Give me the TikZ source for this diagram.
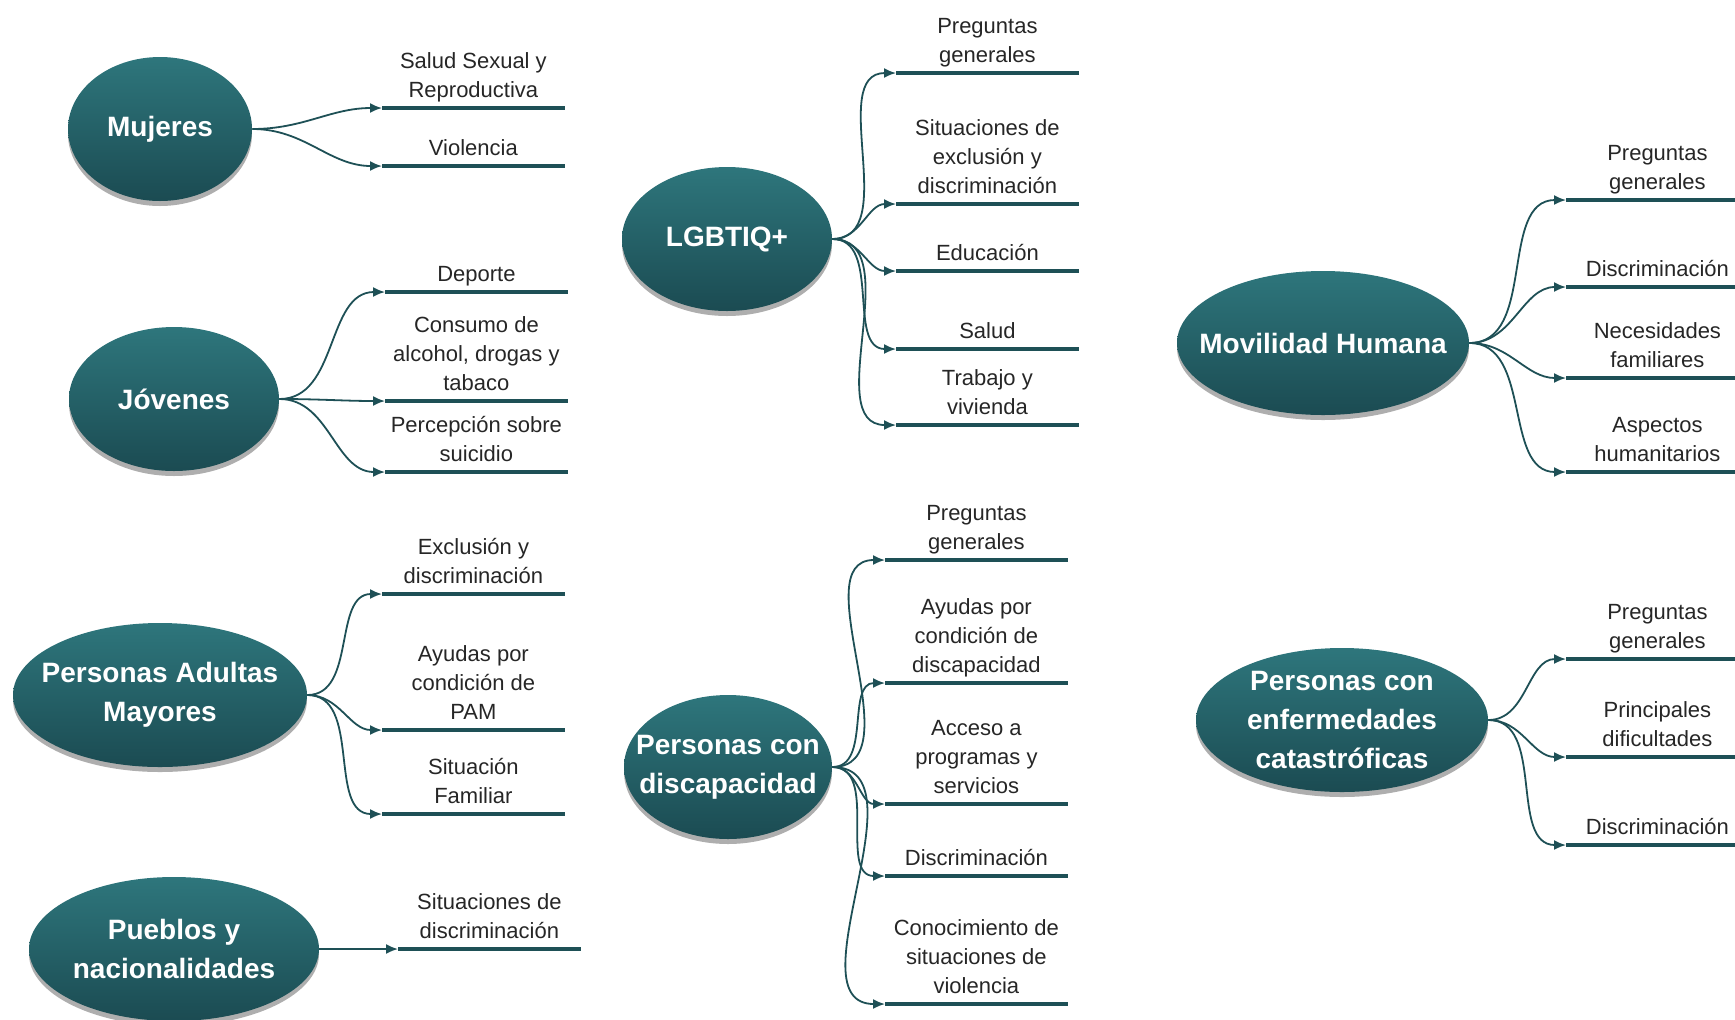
\documentclass[tikz,border=0pt]{standalone}
\usepackage{fontspec}
\setmainfont{Liberation Sans}
\usetikzlibrary{arrows.meta}
\usetikzlibrary{shapes.geometric}
\usetikzlibrary{shadows}
\definecolor{hubtop}{RGB}{46,118,124}
\definecolor{hubbot}{RGB}{27,75,82}
\definecolor{tealline}{RGB}{30,80,86}

\tikzset{
  hub/.style={ellipse, inner sep=0pt, minimum height=72pt, top color=hubtop, bottom color=hubbot,
    drop shadow={shadow xshift=0pt, shadow yshift=-2.5pt, opacity=0.45, fill=black!70}},
  hubtext/.style={text=white, align=center, font=\bfseries\fontsize{14}{19.4}\selectfont},
  leaf/.style={anchor=south west, inner xsep=0pt, inner ysep=5pt, text depth=0pt, text=black!85,
    font=\fontsize{11}{14.5}\selectfont,
    execute at begin node={\begin{minipage}[b]{91pt}\centering},
    execute at end node={\end{minipage}}},
  bar/.style={draw=tealline, line width=2.3pt},
  link/.style={draw=tealline, line width=0.9pt, -{Latex[length=6pt,width=5pt]}}
}

\begin{document}
\begin{tikzpicture}[x=0.5pt, y=-0.5pt] % 1 Einheit = 1 Pixel

\useasboundingbox (0,0) rectangle (1735,1019);
\clip (0,0) rectangle (1735,1019);

% Mujeres
\node[hub, minimum width=92pt, label={[hubtext]center:Mujeres}] (muj) at (160,129) {};
\foreach \nm/\yy/\txt in {muj1/108/{Salud Sexual y\\Reproductiva}, muj2/166/Violencia} {
  \node[leaf] (\nm) at (382,\yy) {\txt};
  \draw[bar] (\nm.south west) -- (\nm.south east);
  \draw[link] (muj.east) to[out=0, in=180] (\nm.south west);
}

% Jovenes
\node[hub, minimum width=105pt, label={[hubtext]center:Jóvenes}] (jov) at (174,399) {};
\foreach \nm/\yy/\txt in {jov1/292/Deporte, jov2/401/{Consumo de\\alcohol, drogas y\\tabaco}, jov3/472/{Percepción sobre\\suicidio}} {
  \node[leaf] (\nm) at (385,\yy) {\txt};
  \draw[bar] (\nm.south west) -- (\nm.south east);
  \draw[link] (jov.east) to[out=0, in=180] (\nm.south west);
}

% Personas Adultas Mayores
\node[hub, minimum width=147pt, label={[hubtext]center:{Personas Adultas\\Mayores}}] (pam) at (160,695) {};
\foreach \nm/\yy/\txt in {pam1/594/{Exclusión y\\discriminación}, pam2/730/{Ayudas por\\condición de\\PAM}, pam3/814/{Situación\\Familiar}} {
  \node[leaf] (\nm) at (382,\yy) {\txt};
  \draw[bar] (\nm.south west) -- (\nm.south east);
  \draw[link] (pam.east) to[out=0, in=180] (\nm.south west);
}

% Pueblos y nacionalidades
\node[hub, minimum width=145pt, label={[hubtext]center:{Pueblos y\\nacionalidades}}] (pue) at (174,949) {};
\node[leaf] (pue1) at (398,949) {Situaciones de\\discriminación};
\draw[bar] (pue1.south west) -- (pue1.south east);
\draw[link] (pue.east) -- (pue1.south west);

% LGBTIQ+
\node[hub, minimum width=105pt, label={[hubtext]center:LGBTIQ+}] (lgb) at (727,239) {};
\foreach \nm/\yy/\txt in {lgb1/73/{Preguntas\\generales}, lgb2/204/{Situaciones de\\exclusión y\\discriminación}, lgb3/271/Educación, lgb4/349/Salud, lgb5/425/{Trabajo y\\vivienda}} {
  \node[leaf] (\nm) at (896,\yy) {\txt};
  \draw[bar] (\nm.south west) -- (\nm.south east);
  \draw[link] (lgb.east) to[out=0, in=180] (\nm.south west);
}

% Personas con discapacidad
\node[hub, minimum width=104pt, label={[hubtext]center:{Personas con\\discapacidad}}] (dis) at (728,767) {};
\foreach \nm/\yy/\txt in {dis1/560/{Preguntas\\generales}, dis2/683/{Ayudas por\\condición de\\discapacidad}, dis3/804/{Acceso a\\programas y\\servicios}, dis4/876/Discriminación, dis5/1004/{Conocimiento de\\situaciones de\\violencia}} {
  \node[leaf] (\nm) at (885,\yy) {\txt};
  \draw[bar] (\nm.south west) -- (\nm.south east);
  \draw[link] (dis.east) to[out=0, in=180] (\nm.south west);
}

% Movilidad Humana
\node[hub, minimum width=146pt, label={[hubtext]center:Movilidad Humana}] (mov) at (1323,343) {};
\foreach \nm/\yy/\txt in {mov1/200/{Preguntas\\generales}, mov2/287/Discriminación, mov3/378/{Necesidades\\familiares}, mov4/472/{Aspectos\\humanitarios}} {
  \node[leaf] (\nm) at (1566,\yy) {\txt};
  \draw[bar] (\nm.south west) -- (\nm.south east);
  \draw[link] (mov.east) to[out=0, in=180] (\nm.south west);
}

% Personas con enfermedades catastroficas
\node[hub, minimum width=146pt, label={[hubtext]center:{Personas con\\enfermedades\\catastróficas}}] (cat) at (1342,720) {};
\foreach \nm/\yy/\txt in {cat1/659/{Preguntas\\generales}, cat2/757/{Principales\\dificultades}, cat3/845/Discriminación} {
  \node[leaf] (\nm) at (1566,\yy) {\txt};
  \draw[bar] (\nm.south west) -- (\nm.south east);
  \draw[link] (cat.east) to[out=0, in=180] (\nm.south west);
}

\end{tikzpicture}
\end{document}
